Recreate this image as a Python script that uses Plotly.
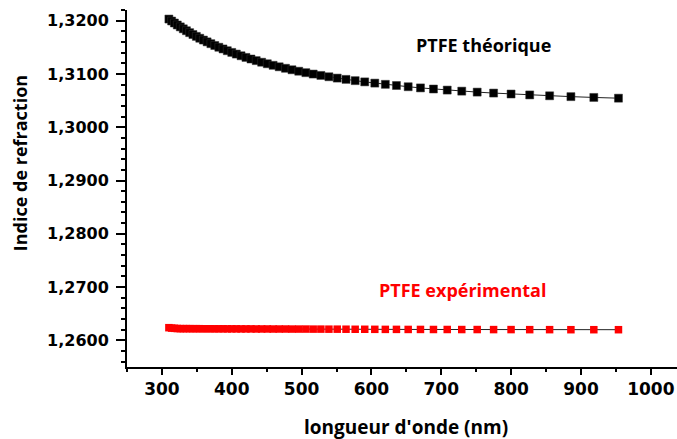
import plotly.graph_objects as go

# Wavelengths (nm) of the measurement points
wavelength_nm = [
    310.0, 313.9, 317.9, 322.0, 326.3, 330.6, 335.1, 339.7, 344.4, 349.3,
    354.2, 359.4, 364.7, 370.1, 375.7, 381.5, 387.5, 393.6, 400.0, 406.5,
    413.3, 420.3, 427.5, 435.0, 442.8, 450.9, 459.2, 467.9, 476.9, 486.2,
    495.9, 506.1, 516.6, 527.6, 539.1, 551.0, 563.6, 576.7, 590.4, 604.8,
    619.9, 635.8, 652.6, 670.2, 688.8, 708.5, 729.3, 751.4, 774.9, 799.9,
    826.6, 855.1, 885.6, 918.4, 953.7,
]

# Theoretical refractive index of PTFE
n_theorique = [
    1.32030, 1.31993, 1.31956, 1.31919, 1.31883, 1.31847, 1.31811, 1.31775, 1.31740, 1.31705,
    1.31670, 1.31636, 1.31602, 1.31568, 1.31534, 1.31501, 1.31469, 1.31436, 1.31404, 1.31373,
    1.31341, 1.31310, 1.31280, 1.31250, 1.31220, 1.31191, 1.31162, 1.31134, 1.31106, 1.31078,
    1.31051, 1.31024, 1.30998, 1.30972, 1.30947, 1.30922, 1.30898, 1.30874, 1.30851, 1.30828,
    1.30805, 1.30783, 1.30760, 1.30738, 1.30717, 1.30697, 1.30677, 1.30659, 1.30641, 1.30623,
    1.30606, 1.30590, 1.30574, 1.30559, 1.30545,
]

# Measured refractive index of PTFE
n_experimental = [
    1.26238, 1.26230, 1.26226, 1.26222, 1.26220, 1.26220, 1.26220, 1.26220, 1.26219, 1.26219,
    1.26219, 1.26218, 1.26218, 1.26218, 1.26217, 1.26217, 1.26217, 1.26216, 1.26216, 1.26216,
    1.26215, 1.26215, 1.26215, 1.26214, 1.26214, 1.26214, 1.26213, 1.26213, 1.26213, 1.26212,
    1.26212, 1.26212, 1.26211, 1.26211, 1.26210, 1.26210, 1.26209, 1.26208, 1.26208, 1.26207,
    1.26206, 1.26206, 1.26205, 1.26205, 1.26204, 1.26204, 1.26203, 1.26203, 1.26202, 1.26202,
    1.26201, 1.26201, 1.26200, 1.26200, 1.26200,
]

x_ticks = [300, 400, 500, 600, 700, 800, 900, 1000]
y_ticks = [1.26, 1.27, 1.28, 1.29, 1.30, 1.31, 1.32]

TITLE_FONT = "Open Sans"
TICK_FONT = "DejaVu Sans"

fig = go.Figure()

fig.add_trace(go.Scatter(
    x=wavelength_nm, y=n_theorique, mode="lines+markers",
    line=dict(color="#222222", width=1),
    marker=dict(symbol="square", size=8, color="black",
                line=dict(color="#333333", width=0.5)),
    showlegend=False,
))

fig.add_trace(go.Scatter(
    x=wavelength_nm, y=n_experimental, mode="lines+markers",
    line=dict(color="#222222", width=1),
    marker=dict(symbol="square", size=7.5, color="#ff0000",
                line=dict(color="#ff0000", width=0)),
    showlegend=False,
))

fig.add_annotation(x=761, y=1.31544, xref="x", yref="y", text="PTFE théorique",
                   showarrow=False, xanchor="center", yanchor="middle",
                   font=dict(family=TITLE_FONT, size=18, color="black", weight="bold"))
fig.add_annotation(x=731, y=1.2695, xref="x", yref="y", text="PTFE expérimental",
                   showarrow=False, xanchor="center", yanchor="middle",
                   font=dict(family=TITLE_FONT, size=18, color="#ff0000", weight="bold"))

# Axis titles
fig.add_annotation(x=0.507, y=-0.168, xref="paper", yref="paper",
                   text="longueur d'onde (nm)", showarrow=False,
                   xanchor="center", yanchor="middle",
                   font=dict(family=TITLE_FONT, size=19, color="black", weight="bold"))
fig.add_annotation(x=-0.1945, y=0.571, xref="paper", yref="paper",
                   text="Indice de refraction", showarrow=False, textangle=-90,
                   xanchor="center", yanchor="middle",
                   font=dict(family=TITLE_FONT, size=18, color="black", weight="bold"))

fig.update_xaxes(
    range=[250, 1037.5], tickvals=x_ticks, ticktext=[str(v) for v in x_ticks],
    showgrid=False, zeroline=False, showline=True, linecolor="black", linewidth=2,
    ticks="outside", ticklen=6, tickwidth=1.5, tickcolor="black",
    tickfont=dict(family=TICK_FONT, size=17, color="black", weight="bold"),
    minor=dict(dtick=50, tick0=250, ticks="outside", ticklen=3, tickwidth=1.5,
               tickcolor="black", showgrid=False),
)
fig.update_yaxes(
    range=[1.255, 1.322], tickvals=y_ticks, tickformat=".4f",
    showgrid=False, zeroline=False, showline=True, linecolor="black", linewidth=2,
    ticks="outside", ticklen=9, tickwidth=1.5, tickcolor="black",
    ticklabelstandoff=4,
    tickfont=dict(family=TICK_FONT, size=16, color="black", weight="bold"),
    minor=dict(dtick=0.002, tick0=1.26, ticks="outside", ticklen=4.5, tickwidth=1.5,
               tickcolor="black", showgrid=False),
)

fig.update_layout(
    width=677, height=439,
    margin=dict(l=127, r=0, t=10, b=72),
    paper_bgcolor="white", plot_bgcolor="white",
    separators=", ",
)

fig.write_html("out.html")
